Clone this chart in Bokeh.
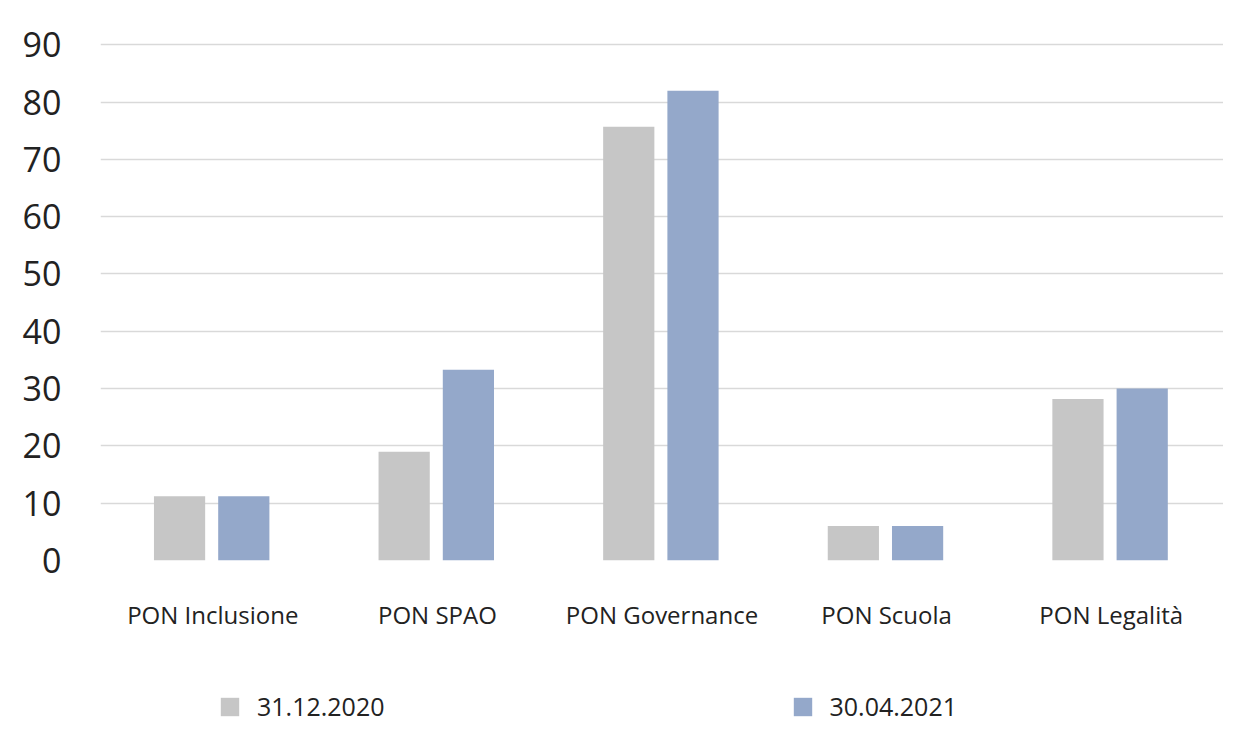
from bokeh.plotting import figure
from bokeh.layouts import column
from bokeh.models import ColumnDataSource, FactorRange, Legend, LegendItem, FixedTicker, Range1d
from bokeh.transform import dodge
from bokeh.embed import file_html
from bokeh.resources import INLINE

categories = ["PON Inclusione", "PON SPAO", "PON Governance", "PON Scuola", "PON Legalità"]
series_names = ["31.12.2020", "30.04.2021"]
values_2020 = [11.2, 19.0, 75.7, 6.0, 28.2]
values_2021 = [11.2, 33.3, 82.0, 6.0, 30.0]
y_ticks = [0, 10, 20, 30, 40, 50, 60, 70, 80, 90]
colors = ["#c6c6c6", "#94a8ca"]

source = ColumnDataSource(dict(cat=categories, v1=values_2020, v2=values_2021))

p = figure(x_range=FactorRange(*categories, range_padding=0), y_range=(0, 90.4),
           width=1223, height=660, output_backend="svg", toolbar_location=None,
           min_border_left=100, min_border_right=0, min_border_top=42, min_border_bottom=100)
p.outline_line_color = None
p.background_fill_color = "white"

r1 = p.vbar(x=dodge("cat", -0.148, range=p.x_range), top="v1", width=0.228, source=source,
            fill_color=colors[0], line_color=None)
r2 = p.vbar(x=dodge("cat", 0.138, range=p.x_range), top="v2", width=0.228, source=source,
            fill_color=colors[1], line_color=None)

p.yaxis.ticker = FixedTicker(ticks=y_ticks)
p.yaxis.axis_line_color = None
p.yaxis.major_tick_line_color = None
p.yaxis.minor_tick_line_color = None
p.yaxis.major_label_text_font = "Open Sans"
p.yaxis.major_label_text_font_size = "34px"
p.yaxis.major_label_text_color = "#222222"
p.yaxis.major_label_standoff = 33

p.xaxis.axis_line_color = None
p.xaxis.major_tick_line_color = None
p.xaxis.major_label_text_font = "Open Sans"
p.xaxis.major_label_text_font_size = "24px"
p.xaxis.major_label_text_color = "#222222"
p.xaxis.major_label_standoff = 31

p.xgrid.grid_line_color = None
p.ygrid.grid_line_color = "#d9d9d9"
p.ygrid.grid_line_width = 1.5

# legend strip below the chart (same series, drawn outside its visible y range)
p2 = figure(width=1223, height=63, output_backend="svg", toolbar_location=None,
            x_range=FactorRange(*categories, range_padding=0), y_range=Range1d(1000, 1001),
            min_border=0, min_border_left=0, min_border_right=0, min_border_top=0, min_border_bottom=0)
p2.axis.visible = False
p2.grid.visible = False
p2.outline_line_color = None
d1 = p2.vbar(x="cat", top="v1", width=0.2, source=source, fill_color=colors[0], line_color=None)
d2 = p2.vbar(x="cat", top="v2", width=0.2, source=source, fill_color=colors[1], line_color=None)

legend = Legend(items=[LegendItem(label=series_names[0], renderers=[d1]),
                       LegendItem(label=series_names[1], renderers=[d2])],
                orientation="horizontal", location=(118, 0),
                spacing=406, padding=0, margin=0, border_line_color=None,
                background_fill_alpha=0, glyph_width=23, glyph_height=23,
                label_standoff=16, label_text_font="Open Sans", label_text_font_size="25px",
                label_text_color="#222222")
p2.add_layout(legend, "center")

layout = column(p, p2, spacing=0)
open("out.html", "w").write(file_html(layout, INLINE))
